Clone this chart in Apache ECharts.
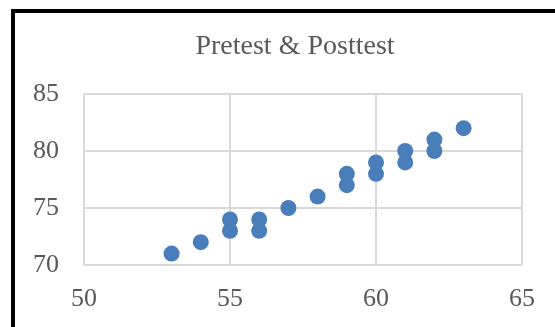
<!DOCTYPE html>
<html>
<head>
<meta charset="utf-8">
<script src="https://cdn.jsdelivr.net/npm/echarts@6/dist/echarts.min.js"></script>
<style>
  html, body { margin: 0; padding: 0; background: #fff; }
  .frame {
    position: absolute;
    left: 11px;
    top: 9px;
    width: 600px;
    height: 400px;
    border-left: 4px solid #000;
    border-top: 4px solid #000;
  }
  #chart {
    position: absolute;
    left: 0;
    top: 0;
    width: 555px;
    height: 327px;
  }
</style>
</head>
<body>
<div class="frame"></div>
<div id="chart"></div>
<script>
  // pretest / posttest scores
  const pretest = [53, 54, 55, 55, 56, 56, 57, 58, 59, 59, 60, 60, 61, 61, 62, 62, 63];
  const posttest = [71, 72, 74, 73, 74, 73, 75, 76, 78, 77, 79, 78, 80, 79, 81, 80, 82];

  const xTicks = [50, 55, 60, 65];
  const yTicks = [70, 75, 80, 85];

  const points = pretest.map((x, i) => [x, posttest[i]]);

  const labelStyle = {
    fontFamily: "Liberation Serif",
    fontSize: 26,
    color: "#595959",
  };

  const chart = echarts.init(document.getElementById("chart"));
  chart.setOption({
    animation: false,
    title: {
      text: "Pretest & Posttest",
      left: 290,
      top: 28,
      textAlign: "center",
      textStyle: {
        fontFamily: "Liberation Serif",
        fontSize: 28,
        fontWeight: "normal",
        color: "#595959",
      },
    },
    grid: {
      left: 84,
      top: 94,
      right: 33,
      bottom: 62,
    },
    xAxis: {
      type: "value",
      min: xTicks[0],
      max: xTicks[xTicks.length - 1],
      interval: 5,
      axisLine: { show: false },
      axisTick: { show: false },
      axisLabel: { ...labelStyle, margin: 21 },
      splitLine: { lineStyle: { color: "#d9d9d9", width: 2 } },
    },
    yAxis: {
      type: "value",
      min: yTicks[0],
      max: yTicks[yTicks.length - 1],
      interval: 5,
      axisLine: { show: false },
      axisTick: { show: false },
      axisLabel: { ...labelStyle, margin: 25 },
      splitLine: { lineStyle: { color: "#d9d9d9", width: 2 } },
    },
    series: [
      {
        type: "scatter",
        symbol: "circle",
        symbolSize: 16,
        itemStyle: { color: "#4a7ebb", opacity: 1 },
        data: points,
      },
    ],
  });
</script>
</body>
</html>
